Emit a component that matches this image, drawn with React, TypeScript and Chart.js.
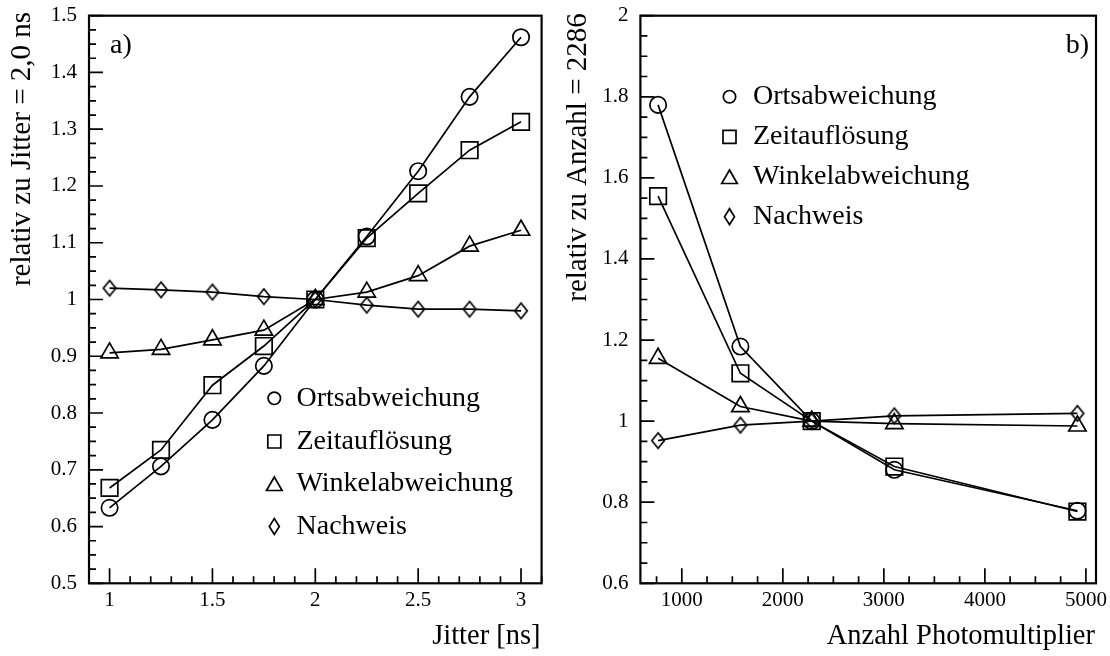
import React, { useEffect, useRef } from "react";
import { Chart, registerables } from "chart.js";

Chart.register(...registerables);

const FONT = "'Liberation Serif', 'Times New Roman', serif";

// Series names (shared by both panels)
const seriesNames = ["Ortsabweichung", "Zeitauflösung", "Winkelabweichung", "Nachweis"];

// Panel a): relative change versus timing jitter
const jitterNs = [1, 1.25, 1.5, 1.75, 2, 2.25, 2.5, 2.75, 3];
const jitterOrt = [0.633, 0.706, 0.788, 0.883, 1.0, 1.111, 1.226, 1.357, 1.462];
const jitterZeit = [0.668, 0.735, 0.849, 0.918, 1.0, 1.108, 1.187, 1.263, 1.313];
const jitterWinkel = [0.906, 0.912, 0.929, 0.946, 1.0, 1.013, 1.042, 1.094, 1.122];
const jitterNachweis = [1.02, 1.017, 1.013, 1.005, 1.0, 0.99, 0.983, 0.983, 0.98];

// Panel b): relative change versus number of photomultipliers
const pmtAnzahl = [765, 1580, 2286, 3104, 4916];
const pmtOrt = [1.78, 1.184, 1.0, 0.88, 0.779];
const pmtZeit = [1.555, 1.118, 1.0, 0.888, 0.777];
const pmtWinkel = [1.155, 1.036, 1.0, 0.994, 0.988];
const pmtNachweis = [0.952, 0.99, 1.0, 1.013, 1.019];

// Labelled tick values
const jitterTicksX = [1, 1.5, 2, 2.5, 3];
const jitterTicksY = [0.5, 0.6, 0.7, 0.8, 0.9, 1, 1.1, 1.2, 1.3, 1.4, 1.5];
const pmtTicksX = [1000, 2000, 3000, 4000, 5000];
const pmtTicksY = [0.6, 0.8, 1, 1.2, 1.4, 1.6, 1.8, 2];

// Axis ranges and tick spacing
const jitterAxisX = { min: 0.9, max: 3.1, step: 0.5, minor: 0.1, ticks: jitterTicksX };
const jitterAxisY = { min: 0.5, max: 1.5, step: 0.1, minor: 0.025, ticks: jitterTicksY };
const pmtAxisX = { min: 590, max: 5100, step: 1000, minor: 250, ticks: pmtTicksX };
const pmtAxisY = { min: 0.6, max: 2.0, step: 0.2, minor: 0.05, ticks: pmtTicksY };

type Marker = "circle" | "square" | "triangle" | "diamond";
const markers: Marker[] = ["circle", "square", "triangle", "diamond"];

const W = 555;
const H = 656;

interface Axis {
  min: number;
  max: number;
  step: number;
  minor: number;
  ticks: number[];
}

interface PanelSpec {
  x: number[];
  series: number[][];
  xAxis: Axis;
  yAxis: Axis;
  xTitle: string;
  yTitle: string;
  yTitleX: number;
  yTitleY: number;
  tag: string;
  tagX: number;
  tagAlign: CanvasTextAlign;
  area: { left: number; top: number; right: number; bottom: number };
  legendX: number;
  legendTextX: number;
  legendRows: number[];
}

function makeDiamond(w: number, h: number, lw: number): HTMLCanvasElement {
  const c = document.createElement("canvas");
  c.width = Math.ceil(w + lw * 2 + 2);
  c.height = Math.ceil(h + lw * 2 + 2);
  const g = c.getContext("2d")!;
  const cx = c.width / 2;
  const cy = c.height / 2;
  g.strokeStyle = "#000";
  g.lineWidth = lw;
  g.beginPath();
  g.moveTo(cx, cy - h / 2);
  g.lineTo(cx + w / 2, cy);
  g.lineTo(cx, cy + h / 2);
  g.lineTo(cx - w / 2, cy);
  g.closePath();
  g.stroke();
  return c;
}

// Small open symbol used in the in-plot legend
function drawLegendSymbol(ctx: CanvasRenderingContext2D, m: Marker, x: number, y: number) {
  ctx.beginPath();
  if (m === "circle") {
    ctx.arc(x, y, 6.2, 0, Math.PI * 2);
  } else if (m === "square") {
    ctx.rect(x - 6.5, y - 6.5, 13, 13);
  } else if (m === "triangle") {
    ctx.moveTo(x, y - 7);
    ctx.lineTo(x + 7.8, y + 6.5);
    ctx.lineTo(x - 7.8, y + 6.5);
    ctx.closePath();
  } else {
    ctx.moveTo(x, y - 8);
    ctx.lineTo(x + 5, y);
    ctx.lineTo(x, y + 8);
    ctx.lineTo(x - 5, y);
    ctx.closePath();
  }
  ctx.stroke();
}

function fmt(v: number): string {
  return String(+Number(v).toFixed(4));
}

function buildChart(canvas: HTMLCanvasElement, p: PanelSpec): Chart {
  const diamond = makeDiamond(12.5, 15.5, 1.7);
  const styleOf = (m: Marker): any =>
    m === "circle" ? "circle" : m === "square" ? "rect" : m === "triangle" ? "triangle" : diamond;
  const radiusOf = (m: Marker) => (m === "circle" ? 8.2 : m === "square" ? 11.7 : m === "triangle" ? 10 : 8);

  const datasets = p.series.map((vals, i) => ({
    label: seriesNames[i],
    data: p.x.map((xv, j) => ({ x: xv, y: vals[j] })),
    borderColor: "#000",
    borderWidth: 1.7,
    backgroundColor: "rgba(0,0,0,0)",
    pointStyle: styleOf(markers[i]),
    pointRadius: radiusOf(markers[i]),
    pointBorderColor: "#000",
    pointBackgroundColor: "rgba(0,0,0,0)",
    pointBorderWidth: 1.7,
    tension: 0,
    fill: false,
  }));

  const frame = {
    id: "frameAndText",
    afterDraw(chart: any) {
      const { ctx, chartArea: a } = chart;
      const sx = chart.scales.x;
      const sy = chart.scales.y;
      ctx.save();
      ctx.strokeStyle = "#000";
      ctx.fillStyle = "#000";

      // inward tick marks on left and bottom axes
      ctx.lineWidth = 1.7;
      ctx.beginPath();
      const yk0 = Math.ceil(p.yAxis.min / p.yAxis.minor - 1e-6);
      const yk1 = Math.floor(p.yAxis.max / p.yAxis.minor + 1e-6);
      for (let k = yk0; k <= yk1; k++) {
        const v = k * p.yAxis.minor;
        const r = v / p.yAxis.step;
        const major = Math.abs(r - Math.round(r)) < 1e-6;
        const py = sy.getPixelForValue(v);
        ctx.moveTo(a.left, py);
        ctx.lineTo(a.left + (major ? 14 : 7), py);
      }
      const xk0 = Math.ceil(p.xAxis.min / p.xAxis.minor - 1e-6);
      const xk1 = Math.floor(p.xAxis.max / p.xAxis.minor + 1e-6);
      for (let k = xk0; k <= xk1; k++) {
        const v = k * p.xAxis.minor;
        const r = v / p.xAxis.step;
        const major = Math.abs(r - Math.round(r)) < 1e-6;
        const px = sx.getPixelForValue(v);
        ctx.moveTo(px, a.bottom);
        ctx.lineTo(px, a.bottom - (major ? 15 : 7));
      }
      ctx.stroke();

      // plot frame
      ctx.lineWidth = 2.2;
      ctx.strokeRect(a.left, a.top, a.right - a.left, a.bottom - a.top);

      // axis titles
      ctx.font = `28.5px ${FONT}`;
      ctx.textAlign = "right";
      ctx.textBaseline = "middle";
      ctx.fillText(p.xTitle, a.right - 1, 637);

      ctx.save();
      ctx.translate(p.yTitleX, p.yTitleY);
      ctx.rotate(-Math.PI / 2);
      ctx.font = `29px ${FONT}`;
      ctx.textAlign = "center";
      ctx.fillText(p.yTitle, 0, 0);
      ctx.restore();

      // panel tag
      ctx.font = `28px ${FONT}`;
      ctx.textAlign = p.tagAlign;
      ctx.textBaseline = "alphabetic";
      ctx.fillText(p.tag, p.tagX, 53);

      // legend
      ctx.lineWidth = 1.7;
      ctx.font = `28px ${FONT}`;
      ctx.textAlign = "left";
      ctx.textBaseline = "middle";
      seriesNames.forEach((name, i) => {
        const yy = p.legendRows[i];
        drawLegendSymbol(ctx, markers[i], p.legendX, yy);
        ctx.fillText(name, p.legendTextX, yy);
      });
      ctx.restore();
    },
  };

  const tickFont = { family: FONT, size: 21 };

  return new Chart(canvas, {
    type: "line",
    data: { datasets },
    options: {
      animation: false,
      responsive: false,
      maintainAspectRatio: false,
      events: [],
      layout: {
        padding: { left: 0, top: p.area.top, right: W - p.area.right, bottom: 0 },
      },
      plugins: {
        legend: { display: false },
        tooltip: { enabled: false },
        title: { display: false },
      },
      scales: {
        x: {
          type: "linear",
          min: p.xAxis.min,
          max: p.xAxis.max,
          afterBuildTicks: (s: any) => {
            s.ticks = p.xAxis.ticks.map((v) => ({ value: v }));
          },
          afterFit: (s: any) => {
            s.height = H - p.area.bottom;
            s.paddingLeft = 0;
            s.paddingRight = 0;
          },
          grid: { display: false, drawTicks: false },
          border: { display: false },
          ticks: {
            autoSkip: false,
            maxRotation: 0,
            padding: 5,
            color: "#000",
            font: tickFont,
            callback: (v: any) => fmt(v),
          },
        },
        y: {
          type: "linear",
          min: p.yAxis.min,
          max: p.yAxis.max,
          afterBuildTicks: (s: any) => {
            s.ticks = p.yAxis.ticks.map((v) => ({ value: v }));
          },
          afterFit: (s: any) => {
            s.width = p.area.left;
            s.paddingTop = 0;
            s.paddingBottom = 0;
          },
          grid: { display: false, drawTicks: false },
          border: { display: false },
          ticks: {
            autoSkip: false,
            padding: 12,
            color: "#000",
            font: tickFont,
            callback: (v: any) => fmt(v),
          },
        },
      },
    },
    plugins: [frame],
  } as any);
}

const panelA: PanelSpec = {
  x: jitterNs,
  series: [jitterOrt, jitterZeit, jitterWinkel, jitterNachweis],
  xAxis: jitterAxisX,
  yAxis: jitterAxisY,
  xTitle: "Jitter [ns]",
  yTitle: "relativ zu Jitter = 2,0 ns",
  yTitleX: 22,
  yTitleY: 149,
  tag: "a)",
  tagX: 110,
  tagAlign: "left",
  area: { left: 89, top: 15.7, right: 545.6, bottom: 583.3 },
  legendX: 274.3,
  legendTextX: 296.5,
  legendRows: [398.3, 441.5, 484, 526.5],
};

const panelB: PanelSpec = {
  x: pmtAnzahl,
  series: [pmtOrt, pmtZeit, pmtWinkel, pmtNachweis],
  xAxis: pmtAxisX,
  yAxis: pmtAxisY,
  xTitle: "Anzahl Photomultiplier",
  yTitle: "relativ zu Anzahl = 2286",
  yTitleX: 23,
  yTitleY: 157.5,
  tag: "b)",
  tagX: 534,
  tagAlign: "right",
  area: { left: 85.4, top: 15.7, right: 541, bottom: 583.3 },
  legendX: 174.5,
  legendTextX: 198,
  legendRows: [96.7, 136.8, 177, 216.7],
};

function Panel({ spec, left }: { spec: PanelSpec; left: number }) {
  const ref = useRef<HTMLCanvasElement | null>(null);
  useEffect(() => {
    if (!ref.current) return;
    const chart = buildChart(ref.current, spec);
    return () => chart.destroy();
  }, [spec]);
  return (
    <canvas
      ref={ref}
      width={W}
      height={H}
      style={{ position: "absolute", left, top: 0, width: W, height: H }}
    />
  );
}

export default function App() {
  return (
    <div
      style={{
        position: "absolute",
        left: 0,
        top: 0,
        width: 1110,
        height: 656,
        background: "#fff",
        overflow: "hidden",
      }}
    >
      <Panel spec={panelA} left={0} />
      <Panel spec={panelB} left={555} />
    </div>
  );
}
